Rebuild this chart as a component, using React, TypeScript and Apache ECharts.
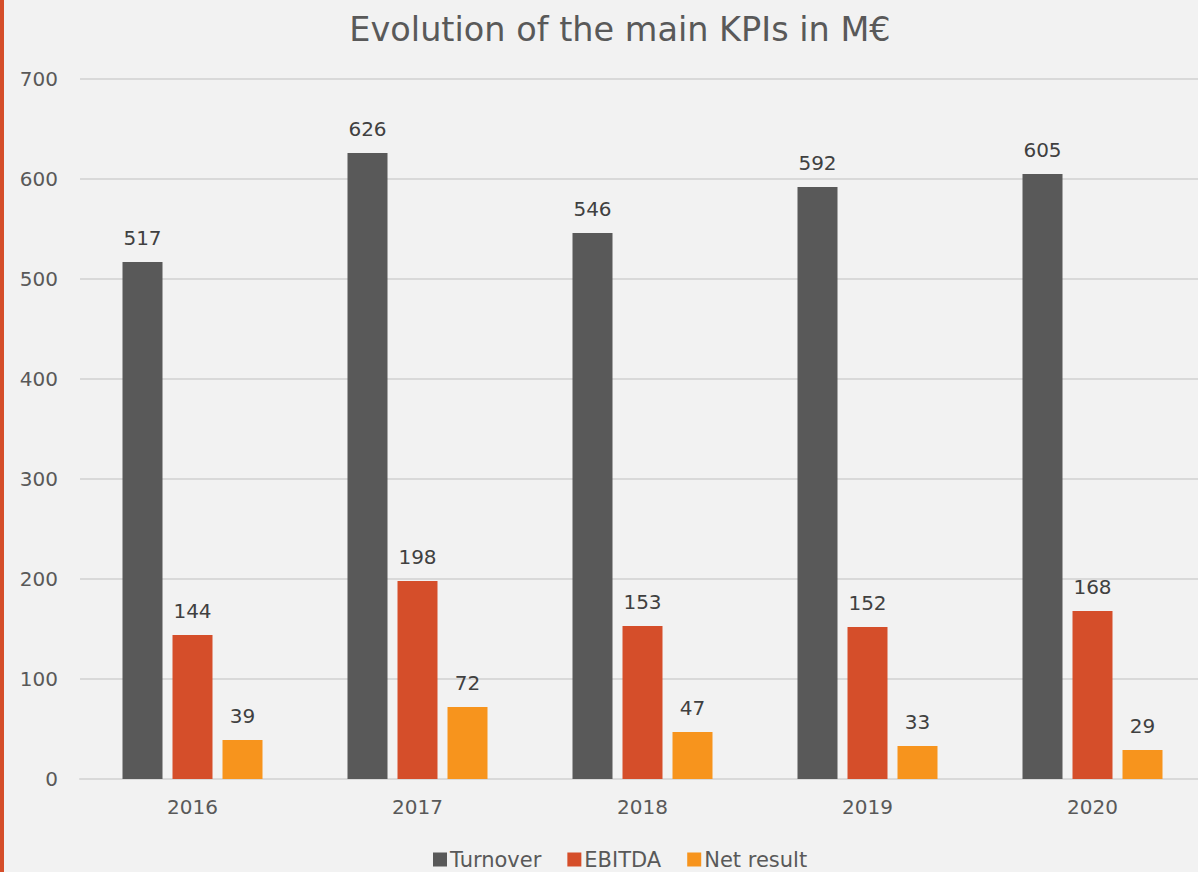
import React, { useEffect, useRef } from "react";
import * as echarts from "echarts";

const years = ["2016", "2017", "2018", "2019", "2020"];
const turnover = [517, 626, 546, 592, 605];
const ebitda = [144, 198, 153, 152, 168];
const netResult = [39, 72, 47, 33, 29];
const yTicks = { min: 0, max: 700, interval: 100 };

const FONT = "'DejaVu Sans', sans-serif";

export default function App() {
  const ref = useRef<HTMLDivElement>(null);
  useEffect(() => {
    document.body.style.margin = "0";
    document.body.style.overflow = "hidden";
    const chart = echarts.init(ref.current!, undefined, { renderer: "svg" });
    const label = {
      show: true,
      position: "top",
      distance: 14,
      color: "#404040",
      fontSize: 20,
      fontFamily: FONT,
    };
    chart.setOption({
      animation: false,
      backgroundColor: "#F2F2F2",
      title: {
        text: "Evolution of the main KPIs in M€",
        left: 615,
        top: 7,
        textAlign: "center",
        textStyle: { color: "#595959", fontSize: 33.5, fontWeight: "normal", fontFamily: FONT },
      },
      graphic: [
        { type: "rect", left: 0, top: 0, shape: { x: 0, y: 0, width: 4, height: 872 }, style: { fill: "#D54E2A" } },
      ],
      legend: {
        top: 844,
        left: 428,
        itemWidth: 14,
        itemHeight: 14,
        itemGap: 26,
        icon: "rect",
        textStyle: { color: "#595959", fontSize: 21, fontFamily: FONT, padding: [0, 0, 0, -2] },
        data: ["Turnover", "EBITDA", "Net result"],
      },
      grid: { left: 80, top: 79, width: 1125, bottom: 93, containLabel: false },
      xAxis: {
        type: "category",
        data: years,
        axisLine: { lineStyle: { color: "#D9D9D9", width: 2 } },
        axisTick: { show: false },
        axisLabel: { color: "#595959", fontSize: 20, fontFamily: FONT, margin: 18 },
      },
      yAxis: {
        type: "value",
        min: yTicks.min,
        max: yTicks.max,
        interval: yTicks.interval,
        axisLine: { show: false },
        axisTick: { show: false },
        splitLine: { lineStyle: { color: "#D9D9D9", width: 2 } },
        axisLabel: { color: "#595959", fontSize: 20, fontFamily: FONT, margin: 22 },
      },
      series: [
        { name: "Turnover", type: "bar", data: turnover, barWidth: 40, barGap: "25%", itemStyle: { color: "#595959" }, label },
        { name: "EBITDA", type: "bar", data: ebitda, barWidth: 40, barGap: "25%", itemStyle: { color: "#D54E2A" }, label },
        { name: "Net result", type: "bar", data: netResult, barWidth: 40, barGap: "25%", itemStyle: { color: "#F7941D" }, label },
      ],
    });
    return () => chart.dispose();
  }, []);
  return <div ref={ref} style={{ width: 1240, height: 872 }} />;
}
